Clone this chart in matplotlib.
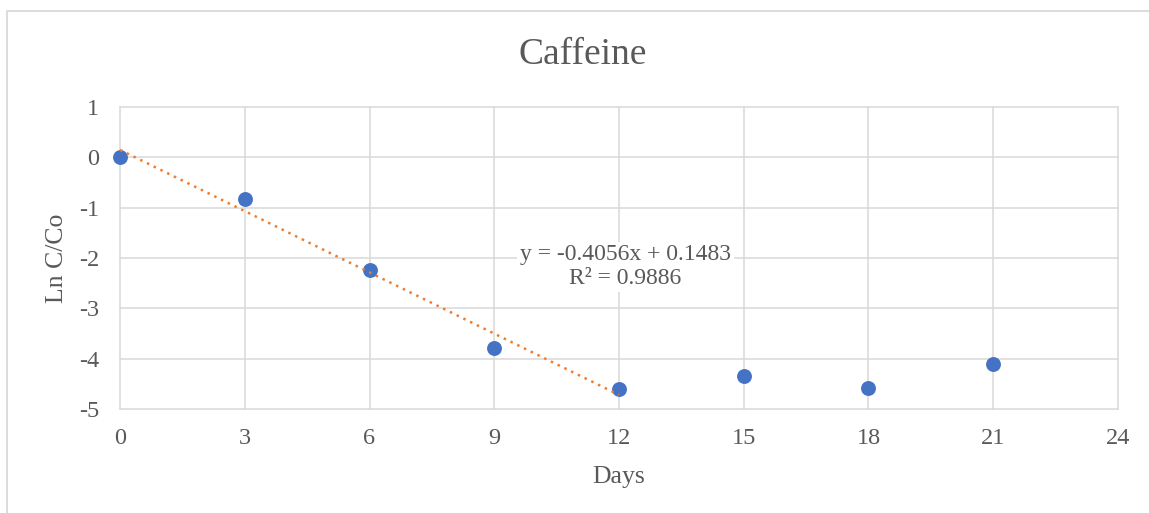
import matplotlib.pyplot as plt
from matplotlib.patches import Rectangle

# data
days = [0, 3, 6, 9, 12, 15, 18, 21]
ln_c_co = [0.0, -0.83, -2.23, -3.78, -4.61, -4.35, -4.59, -4.10]

# linear trendline fitted over days 0..12
trend_x = [0, 12]
slope = -0.4056
intercept = 0.1483
r_squared = 0.9886

x_ticks = [0, 3, 6, 9, 12, 15, 18, 21, 24]
y_ticks = [1, 0, -1, -2, -3, -4, -5]

plt.rcParams['font.family'] = ['Liberation Serif', 'DejaVu Serif']
plt.rcParams['axes.unicode_minus'] = False
text_color = '#595959'
grid_color = '#d9d9d9'

fig = plt.figure(figsize=(11.49, 5.13), dpi=100)
ax = fig.add_axes([120 / 1149, 1 - 409 / 513, (1118 - 120) / 1149, (409 - 107) / 513])

# outer chart border (only top and left visible in the crop)
fig.add_artist(Rectangle((7 / 1149, -0.05), 1.2, 1 - 11 / 513 + 0.05, transform=fig.transFigure,
                         fill=False, edgecolor=grid_color, linewidth=1.3))

ax.set_xlim(0, 24)
ax.set_ylim(-5, 1)
ax.set_xticks(x_ticks)
ax.set_yticks(y_ticks)
ax.grid(True, color=grid_color, linewidth=1.1)
ax.set_axisbelow(True)
for line in ax.get_xgridlines() + ax.get_ygridlines():
    line.set_clip_on(False)
for s in ax.spines.values():
    s.set_visible(False)
ax.tick_params(length=0, labelsize=17.5, labelcolor=text_color)
ax.tick_params(axis='x', pad=14)
ax.tick_params(axis='y', pad=15)

ax.scatter(days, ln_c_co, s=115, color='#4472C4', zorder=3, clip_on=False, linewidths=0)

ty = [slope * x + intercept for x in trend_x]
ax.plot(trend_x, ty, color='#ED7D31', linewidth=1.8, linestyle=(0, (1, 2.0)),
        zorder=4, clip_on=False)

ax.text(12.15, -2.17, 'y = %.4fx + %.4f\nR² = %.4f' % (slope, intercept, r_squared),
        ha='center', va='center', fontsize=17, color=text_color, linespacing=1.15,
        bbox=dict(facecolor='white', edgecolor='none', pad=2), zorder=5)

fig.text(583 / 1149, 1 - 55 / 513, 'Caffeine', ha='center', va='center',
         fontsize=27, color=text_color)
fig.text(57 / 1149, 1 - 258 / 513, 'Ln C/Co', ha='center', va='center',
         rotation=90, fontsize=18.5, color=text_color)
fig.text(619 / 1149, 1 - 477 / 513, 'Days', ha='center', va='center',
         fontsize=18.5, color=text_color)

fig.savefig('out.png', dpi=100)
